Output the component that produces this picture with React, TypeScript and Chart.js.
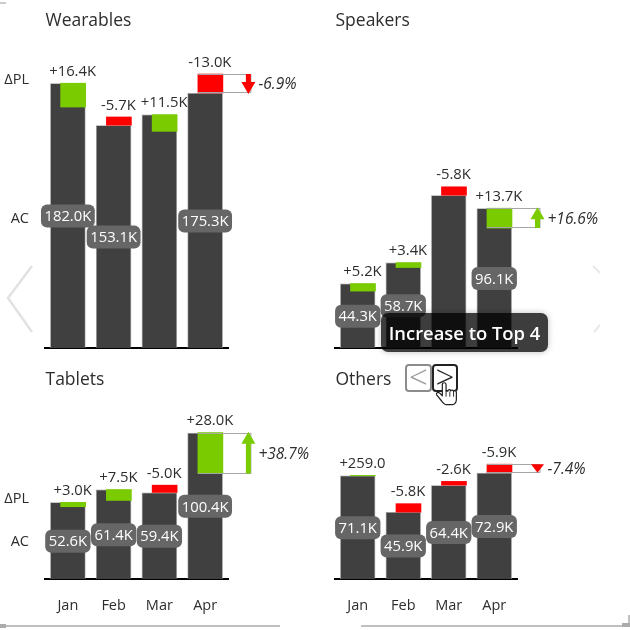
import React, { useEffect, useRef } from "react";
import { Chart, registerables } from "chart.js";

Chart.register(...registerables);

const months = ["Jan", "Feb", "Mar", "Apr"];

const wearablesAC = [182.0, 153.1, 160.4, 175.3];
const wearablesDelta = [16.4, -5.7, 11.5, -13.0];
const wearablesACLabels = ["182.0K", "153.1K", "", "175.3K"];
const wearablesDeltaLabels = ["+16.4K", "-5.7K", "+11.5K", "-13.0K"];

const speakersAC = [44.3, 58.7, 105.0, 96.1];
const speakersDelta = [5.2, 3.4, -5.8, 13.7];
const speakersACLabels = ["44.3K", "58.7K", "", "96.1K"];
const speakersDeltaLabels = ["+5.2K", "+3.4K", "-5.8K", "+13.7K"];

const tabletsAC = [52.6, 61.4, 59.4, 100.4];
const tabletsDelta = [3.0, 7.5, -5.0, 28.0];
const tabletsACLabels = ["52.6K", "61.4K", "59.4K", "100.4K"];
const tabletsDeltaLabels = ["+3.0K", "+7.5K", "-5.0K", "+28.0K"];

const othersAC = [71.1, 45.9, 64.4, 72.9];
const othersDelta = [0.259, -5.8, -2.6, -5.9];
const othersACLabels = ["71.1K", "45.9K", "64.4K", "72.9K"];
const othersDeltaLabels = ["+259.0", "-5.8K", "-2.6K", "-5.9K"];

const FONT = '"Open Sans", sans-serif';
const DARK = "#404040";
const GREEN = "#7ACC00";
const RED = "#FF0000";
const INK = "#2E2D2C";

type PanelCfg = {
  title: string;
  ac: number[];
  delta: number[];
  acLabels: string[];
  deltaLabels: string[];
  variance: string;
  rowLabels: boolean;
  left: number;
  top: number;
  height: number;
  padLeft: number;
  padRight: number;
  padTop: number;
  padBottom: number;
  yMax: number;
  showTicks: boolean;
  titleY: number;
  acRowY: number;
  dplRowY: number;
};

const panels: PanelCfg[] = [
  { title: "Wearables", ac: wearablesAC, delta: wearablesDelta, acLabels: wearablesACLabels, deltaLabels: wearablesDeltaLabels, variance: "-6.9%", rowLabels: true, left: 0, top: 0, height: 360, padLeft: 45, padRight: 87, padTop: 57, padBottom: 12, yMax: 200, showTicks: false, titleY: 21, acRowY: 219, dplRowY: 80 },
  { title: "Speakers", ac: speakersAC, delta: speakersDelta, acLabels: speakersACLabels, deltaLabels: speakersDeltaLabels, variance: "+16.6%", rowLabels: false, left: 315, top: 0, height: 360, padLeft: 20, padRight: 113, padTop: 57, padBottom: 12, yMax: 200, showTicks: false, titleY: 21, acRowY: 0, dplRowY: 0 },
  { title: "Tablets", ac: tabletsAC, delta: tabletsDelta, acLabels: tabletsACLabels, deltaLabels: tabletsDeltaLabels, variance: "+38.7%", rowLabels: true, left: 0, top: 360, height: 270, padLeft: 45, padRight: 87, padTop: 15, padBottom: 0, yMax: 140, showTicks: true, titleY: 20.5, acRowY: 182, dplRowY: 139 },
  { title: "Others", ac: othersAC, delta: othersDelta, acLabels: othersACLabels, deltaLabels: othersDeltaLabels, variance: "-7.4%", rowLabels: false, left: 315, top: 360, height: 270, padLeft: 20, padRight: 113, padTop: 15, padBottom: 0, yMax: 140, showTicks: true, titleY: 20.5, acRowY: 0, dplRowY: 0 },
];

function deltaRange(ac: number, d: number): [number, number] {
  return d >= 0 ? [ac - d, ac] : [ac, ac - d];
}

function makePlugin(p: PanelCfg) {
  return {
    id: "panelText",
    afterDatasetsDraw(chart: any) {
      const ctx = chart.ctx as CanvasRenderingContext2D;
      const acMeta = chart.getDatasetMeta(1);
      const dMeta = chart.getDatasetMeta(0);
      const y = chart.scales.y;
      ctx.save();
      ctx.textBaseline = "middle";

      // title
      ctx.textAlign = "left";
      ctx.fillStyle = INK;
      ctx.font = `17.5px ${FONT}`;
      ctx.fillText(p.title, p.padLeft + 0.5, p.titleY);

      // row labels
      if (p.rowLabels) {
        ctx.font = `14.5px ${FONT}`;
        ctx.textAlign = "right";
        ctx.fillText("ΔPL", 29, p.dplRowY);
        ctx.fillText("AC", 29, p.acRowY);
      }

      const n = p.ac.length;
      // variance bracket on last month
      const last = n - 1;
      const [lo, hi] = deltaRange(p.ac[last], p.delta[last]);
      const yTop = y.getPixelForValue(hi);
      const yBot = y.getPixelForValue(lo);
      const dEl = dMeta.data[last];
      const barLeft = dEl.x - 12.5;
      const barRight = acMeta.data[last].x + 17.75;
      const ax = barRight + 25.5;
      ctx.strokeStyle = "#A6A6A6";
      ctx.lineWidth = 1;
      ctx.beginPath();
      ctx.moveTo(barLeft, Math.round(yTop) + 0.5);
      ctx.lineTo(ax + 2.5, Math.round(yTop) + 0.5);
      ctx.moveTo(barLeft, Math.round(yBot) - 0.5);
      ctx.lineTo(ax + 2.5, Math.round(yBot) - 0.5);
      ctx.moveTo(ax + 2.5, yTop);
      ctx.lineTo(ax + 2.5, yBot);
      ctx.stroke();

      const up = p.delta[last] >= 0;
      ctx.fillStyle = up ? GREEN : RED;
      const span = yBot - yTop;
      const head = 11;
      ctx.beginPath();
      if (span <= head + 1) {
        ctx.moveTo(ax - 6.5, yTop);
        ctx.lineTo(ax + 6.5, yTop);
        ctx.lineTo(ax, yBot);
      } else if (up) {
        ctx.moveTo(ax, yTop - 1);
        ctx.lineTo(ax + 7, yTop + head);
        ctx.lineTo(ax + 2.5, yTop + head);
        ctx.lineTo(ax + 2.5, yBot);
        ctx.lineTo(ax - 2.5, yBot);
        ctx.lineTo(ax - 2.5, yTop + head);
        ctx.lineTo(ax - 7, yTop + head);
      } else {
        ctx.moveTo(ax, yBot + 1);
        ctx.lineTo(ax + 7, yBot - head);
        ctx.lineTo(ax + 2.5, yBot - head);
        ctx.lineTo(ax + 2.5, yTop);
        ctx.lineTo(ax - 2.5, yTop);
        ctx.lineTo(ax - 2.5, yBot - head);
        ctx.lineTo(ax - 7, yBot - head);
      }
      ctx.closePath();
      ctx.fill();

      // variance text
      ctx.textAlign = "left";
      ctx.fillStyle = INK;
      ctx.font = `italic 15.5px ${FONT}`;
      ctx.fillText(p.variance, ax + 10, (yTop + yBot) / 2 + 1);

      // delta labels and AC pills
      for (let i = 0; i < n; i++) {
        const [l, h] = deltaRange(p.ac[i], p.delta[i]);
        ctx.textAlign = "center";
        ctx.fillStyle = INK;
        ctx.font = `14.8px ${FONT}`;
        ctx.fillText(p.deltaLabels[i], dMeta.data[i].x - 0.5, y.getPixelForValue(h) - 11.5);

        const text = p.acLabels[i];
        if (text) {
          const cx = acMeta.data[i].x;
          const cy = y.getPixelForValue(p.ac[i] / 2) + 0.5;
          const w = ctx.measureText(text).width + 7;
          ctx.fillStyle = "#666666";
          ctx.beginPath();
          ctx.roundRect(cx - w / 2, cy - 11.5, w, 23, 6);
          ctx.fill();
          ctx.fillStyle = "#FFFFFF";
          ctx.fillText(text, cx, cy + 1);
        }
      }
      ctx.restore();
    },
  };
}

function Panel({ cfg }: { cfg: PanelCfg }) {
  const ref = useRef<HTMLCanvasElement>(null);
  useEffect(() => {
    const chart = new Chart(ref.current!, {
      type: "bar",
      data: {
        labels: months,
        datasets: [
          {
            label: "ΔPL",
            xAxisID: "x2",
            data: cfg.ac.map((v, i) => ({ x: i, y: deltaRange(v, cfg.delta[i]) })) as any,
            backgroundColor: cfg.delta.map((d) => (d >= 0 ? GREEN : RED)),
            barThickness: 25,
            grouped: false,
          },
          {
            label: "AC",
            xAxisID: "x",
            data: cfg.ac,
            backgroundColor: DARK,
            borderColor: "#9C9C9C",
            borderWidth: 0.75,
            barPercentage: 0.776,
            categoryPercentage: 1,
            grouped: false,
          },
        ],
      },
      options: {
        animation: false,
        responsive: false,
        layout: { padding: { left: cfg.padLeft, right: cfg.padRight, top: cfg.padTop, bottom: cfg.padBottom } },
        plugins: { legend: { display: false }, tooltip: { enabled: false }, title: { display: false } },
        scales: {
          x: {
            type: "category",
            grid: { display: false },
            border: { display: true, color: "#000000", width: 2 },
            ticks: { display: cfg.showTicks, color: INK, font: { family: FONT, size: 14.5 }, padding: 10, maxRotation: 0, autoSkip: false },
            afterFit: (s: any) => { s.height = cfg.showTicks ? 51 : 0; },
          },
          x2: {
            type: "linear",
            display: false,
            offset: false,
            min: -0.5 - 0.115,
            max: 3.5 - 0.115,
          },
          y: { display: false, min: 0, max: cfg.yMax },
        },
      } as any,
      plugins: [makePlugin(cfg)],
    });
    return () => chart.destroy();
  }, [cfg]);
  return (
    <canvas
      ref={ref}
      width={315}
      height={cfg.height}
      style={{ position: "absolute", left: cfg.left, top: cfg.top, width: 315, height: cfg.height, display: "block" }}
    />
  );
}

function Overlay() {
  return (
    <>
      <svg width={630} height={630} style={{ position: "absolute", left: 0, top: 0, pointerEvents: "none" }}>
        <polyline points="32,266 8,298 32,332" fill="none" stroke="#E2E2E2" strokeWidth={2.5} />
        <line x1={593} y1={266} x2={600} y2={273} stroke="#E8E8E8" strokeWidth={2} />
        <line x1={600} y1={325} x2={594} y2={332} stroke="#E8E8E8" strokeWidth={2} />
        <line x1={0} y1={626} x2={280} y2={626} stroke="#ABABAB" strokeWidth={1.5} />
        <rect x={0} y={624} width={6} height={4} fill="#ABABAB" />
        <line x1={361} y1={626} x2={630} y2={626} stroke="#ABABAB" strokeWidth={1.5} />
        <rect x={622} y={623} width={8} height={4} fill="#ABABAB" />
        <line x1={629} y1={615} x2={629} y2={627} stroke="#ABABAB" strokeWidth={1.5} />
        <line x1={0} y1={3} x2={6} y2={3} stroke="#BBBBBB" strokeWidth={1.5} />
      </svg>

      <div
        style={{
          position: "absolute", left: 381, top: 313, width: 167, height: 39,
          background: "rgba(0,0,0,0.76)", borderRadius: 7, boxShadow: "0 0 6px rgba(0,0,0,0.25)",
          color: "#FFFFFF", font: `600 18.4px ${FONT}`, lineHeight: "39px", textAlign: "center", whiteSpace: "nowrap",
        }}
      >
        Increase to Top 4
      </div>

      <div
        style={{
          position: "absolute", left: 405, top: 364, width: 23, height: 24, border: "2px solid #8C8C8C", borderRadius: 4,
          background: "#FFFFFF", color: "#9A9A9A", font: `300 33px ${FONT}`, lineHeight: "22px", textAlign: "center",
        }}
      >
        {"<"}
      </div>
      <div
        style={{
          position: "absolute", left: 432, top: 364, width: 22, height: 24, border: "2px solid #222222", borderRadius: 4,
          background: "#FFFFFF", color: "#222222", font: `300 33px ${FONT}`, lineHeight: "22px", textAlign: "center",
        }}
      >
        {">"}
      </div>
      <svg width={30} height={30} viewBox="0 0 32 32" style={{ position: "absolute", left: 432, top: 377, pointerEvents: "none" }}>
        <path
          d="M11 8 C11 5.5 15 5.5 15 8 L15 15 L17 15 C17 13 20 13 20 15 C20 13.5 23 13.5 23 15.5 C23.5 14 26 14.5 26 16.5 L26 24 C26 27 24 29.5 22 29.5 L15 29.5 C13 29.5 11.5 27 9 24 L5 19 C4 17 6 15.5 8 17 L11 20 Z"
          fill="#FFFFFF" stroke="#222222" strokeWidth={1.3} strokeLinejoin="round"
        />
        <path d="M15 15 L15 21 M19 15.5 L19 21 M23 16 L23 21" stroke="#222222" strokeWidth={1} />
      </svg>
    </>
  );
}

export default function App() {
  return (
    <div style={{ position: "fixed", left: 0, top: 0, width: 630, height: 630, background: "#FFFFFF", overflow: "hidden" }}>
      {panels.map((p) => (
        <Panel key={p.title} cfg={p} />
      ))}
      <Overlay />
    </div>
  );
}
